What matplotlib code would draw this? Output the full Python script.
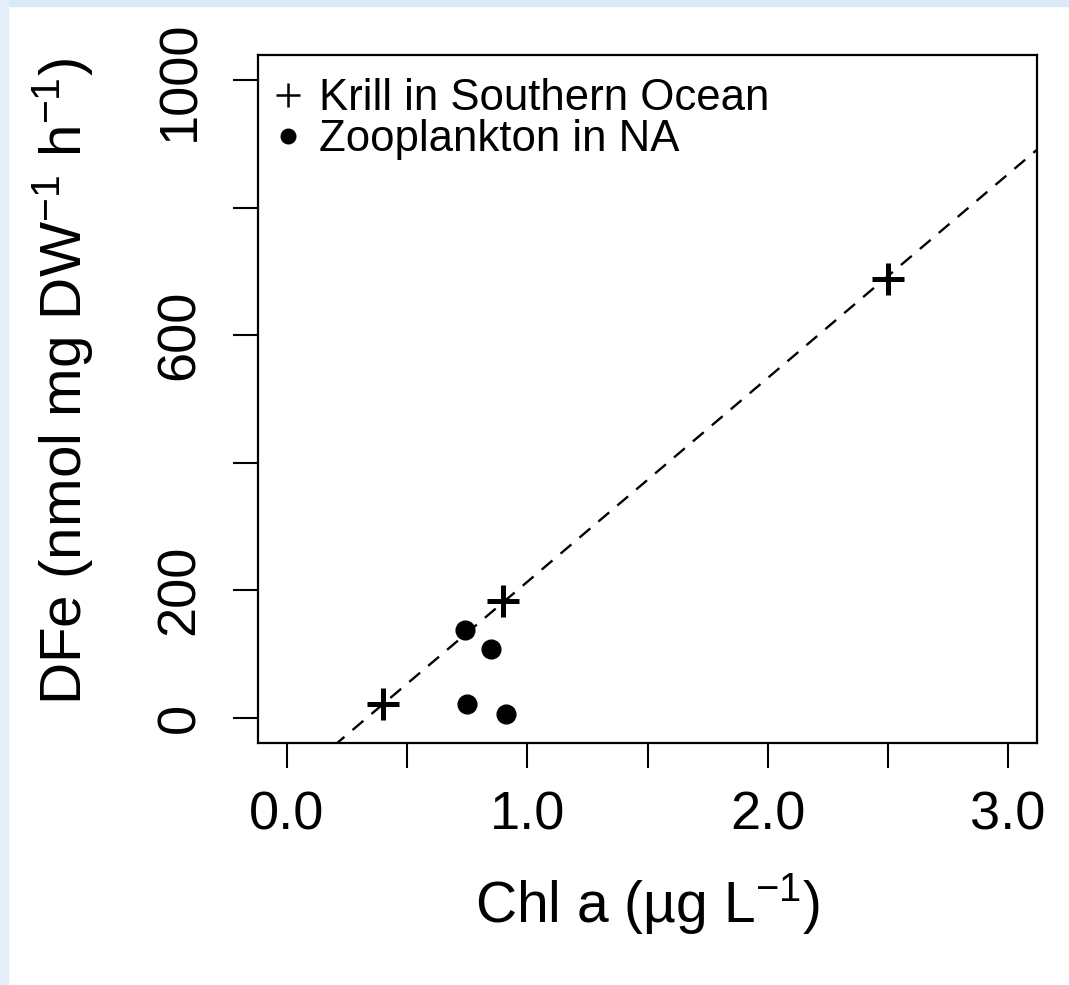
import matplotlib
matplotlib.use("Agg")
import matplotlib.pyplot as plt
from matplotlib.lines import Line2D
import matplotlib.patches as mpatches

plt.rcParams['font.family'] = ['Liberation Sans', 'DejaVu Sans']
plt.rcParams['mathtext.fontset'] = 'custom'
plt.rcParams['mathtext.rm'] = 'Liberation Sans'
plt.rcParams['mathtext.it'] = 'Liberation Sans:italic'

# Data
krill_chl = [0.40, 0.90, 2.50]
krill_dfe = [22, 183, 688]
zoo_chl = [0.74, 0.85, 0.75, 0.91]
zoo_dfe = [138, 108, 22, 6]
fit_slope = 320.0
fit_intercept = -107.0
x_ticks = [0.0, 0.5, 1.0, 1.5, 2.0, 2.5, 3.0]
x_ticklabels = ['0.0', '', '1.0', '', '2.0', '', '3.0']
y_ticks = [0, 200, 400, 600, 800, 1000]
y_ticklabels = ['0', '200', '', '600', '', '1000']

W, H = 1069, 985
fig = plt.figure(figsize=(W / 100, H / 100), dpi=100)
fig.patch.set_facecolor('white')
# light blue screenshot edges
fig.patches.append(mpatches.Rectangle((0, 1 - 6 / H), 1, 6 / H, transform=fig.transFigure,
                                      color='#dbe9f6', zorder=0))
fig.patches.append(mpatches.Rectangle((0, 0), 8 / W, 1, transform=fig.transFigure,
                                      color='#e4eff9', zorder=0))

ax = fig.add_axes([258 / W, 1 - 743 / H, (1037 - 258) / W, (743 - 55) / H])
ax.set_xlim(-0.12, 3.12)
ax.set_ylim(-40, 1040)

xs = [-0.12, 3.12]
ax.plot(xs, [fit_intercept + fit_slope * v for v in xs], color='black', lw=1.7,
        ls=(0, (6, 4.5)), zorder=2)

ax.plot(krill_chl, krill_dfe, ls='none', marker='+', ms=23, mew=3.6, color='black', zorder=3)
ax.plot(zoo_chl, zoo_dfe, ls='none', marker='o', ms=13.5, color='black', zorder=3)

for s in ax.spines.values():
    s.set_linewidth(1.6)

ax.set_xticks(x_ticks)
ax.set_xticklabels(x_ticklabels)
ax.set_yticks(y_ticks)
ax.set_yticklabels(y_ticklabels, rotation=90, va='center')
ax.tick_params(axis='both', direction='out', length=18, width=1.5, labelsize=39)
ax.tick_params(axis='x', pad=16)
ax.tick_params(axis='y', pad=20)

ax.set_xlabel('Chl a (µg L$^{-1}$)', fontsize=41, labelpad=22)
ax.set_ylabel(r'DFe (nmol mg DW$^{-1}$ h$^{-1}$)', fontsize=42)
ax.yaxis.set_label_coords(-0.209, 0.525)

handles = [Line2D([], [], ls='none', marker='+', ms=17, mew=1.8, color='black'),
           Line2D([], [], ls='none', marker='o', ms=10.5, color='black')]
ax.legend(handles, ['Krill in Southern Ocean', 'Zooplankton in NA'], loc='upper left',
          bbox_to_anchor=(-9 / 779, 1 + 3 / 688),
          frameon=False, fontsize=31.5, handlelength=0.6, handletextpad=0.39,
          labelspacing=0.0, borderaxespad=0.4, borderpad=0.2)

fig.savefig('out.png', dpi=100)
